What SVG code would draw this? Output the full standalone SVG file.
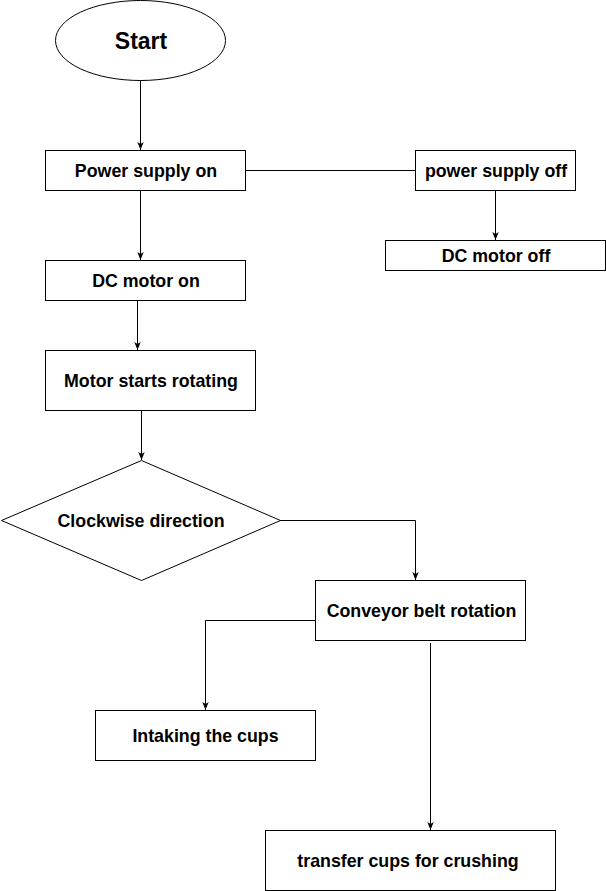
<svg xmlns="http://www.w3.org/2000/svg" width="606" height="891" viewBox="0 0 606 891">
<style>
.n{fill:#fff;stroke:#000;stroke-width:1}
.t{font-family:"Liberation Sans",Arial,sans-serif;font-weight:bold;font-size:17.8px;fill:#000;text-anchor:middle;dominant-baseline:central}
.c{fill:none;stroke:#000;stroke-width:1}
</style>
<defs>
<marker id="a" viewBox="0 0 10 10" refX="10" refY="5" markerWidth="8" markerHeight="8" markerUnits="userSpaceOnUse" orient="auto">
<path d="M0,1 L10,5 L0,9 L2.5,5 Z" fill="#000"/>
</marker>
</defs>
<rect width="606" height="891" fill="#fff"/>
<g id="connectors">
<path class="c" d="M140.5,80 V150" marker-end="url(#a)"/>
<path class="c" d="M245,170.5 H415"/>
<path class="c" d="M495.5,190 V240" marker-end="url(#a)"/>
<path class="c" d="M140.5,190 V260" marker-end="url(#a)"/>
<path class="c" d="M137.5,300 V350" marker-end="url(#a)"/>
<path class="c" d="M141.5,410 V460" marker-end="url(#a)"/>
<path class="c" d="M280,520.5 H415.5 V580" marker-end="url(#a)"/>
<path class="c" d="M315,620.5 H205.5 V710" marker-end="url(#a)"/>
<path class="c" d="M430.5,643 V830" marker-end="url(#a)"/>
</g>
<g id="start"><ellipse class="n" cx="140.5" cy="40.5" rx="85" ry="40"/><text class="t" x="141" y="41" style="font-size:23px">Start</text></g>
<g id="power-on"><rect class="n" x="45.5" y="150.5" width="200" height="40"/><text class="t" x="146" y="171">Power supply on</text></g>
<g id="power-off"><rect class="n" x="415.5" y="150.5" width="160" height="40"/><text class="t" x="496" y="171">power supply off</text></g>
<g id="dc-off"><rect class="n" x="385.5" y="240.5" width="220" height="30"/><text class="t" x="496" y="256">DC motor off</text></g>
<g id="dc-on"><rect class="n" x="45.5" y="260.5" width="200" height="40"/><text class="t" x="146" y="281">DC motor on</text></g>
<g id="motor-rotating"><rect class="n" x="45.5" y="350.5" width="210" height="60"/><text class="t" x="151" y="381">Motor starts rotating</text></g>
<g id="clockwise"><path class="n" d="M141.5,460.5 L280.5,520.5 L141.5,580.5 L1.5,520.5 Z"/><text class="t" x="141" y="521">Clockwise direction</text></g>
<g id="conveyor"><rect class="n" x="315.5" y="580.5" width="210" height="60"/><text class="t" x="421.5" y="611">Conveyor belt rotation</text></g>
<g id="intaking"><rect class="n" x="95.5" y="710.5" width="220" height="50"/><text class="t" x="205.5" y="736">Intaking the cups</text></g>
<g id="transfer"><rect class="n" x="265.5" y="830.5" width="290" height="60"/><text class="t" x="408" y="861">transfer cups for crushing</text></g>
</svg>
